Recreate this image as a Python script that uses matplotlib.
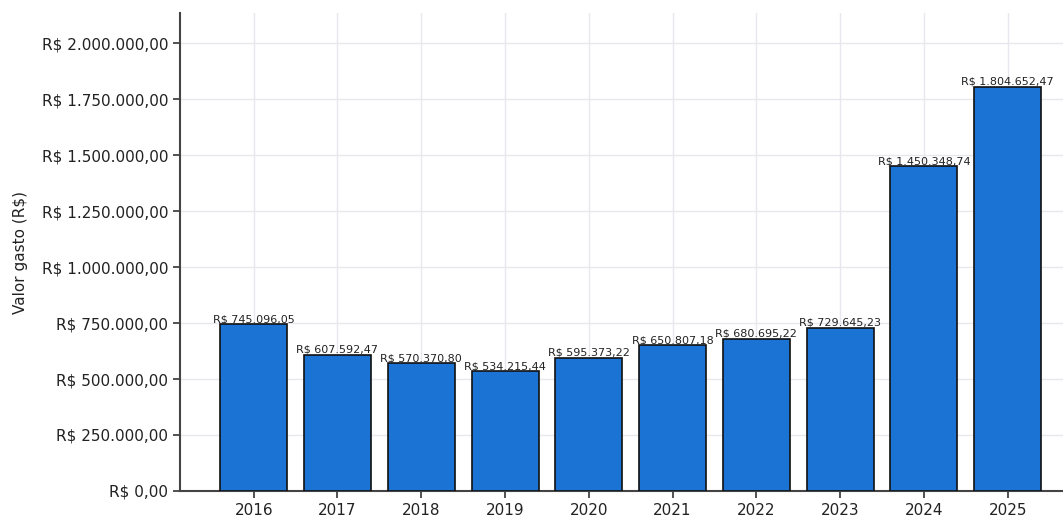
import matplotlib.pyplot as plt
from matplotlib.ticker import FuncFormatter

anos = ["2016", "2017", "2018", "2019", "2020", "2021", "2022", "2023", "2024", "2025"]
valores = [745096.05, 607592.47, 570370.80, 534215.44, 595373.22,
           650807.18, 680695.22, 729645.23, 1450348.74, 1804652.47]
yticks = [0, 250000, 500000, 750000, 1000000, 1250000, 1500000, 1750000, 2000000]


def brl(v):
    s = f"{v:,.2f}"
    s = s.replace(",", "X").replace(".", ",").replace("X", ".")
    return f"R$ {s}"


fig = plt.figure(figsize=(10.63, 5.21), dpi=100)
ax = fig.add_axes([0.1693, 0.0576, 0.8307, 0.9174])

x = range(len(anos))
bars = ax.bar(x, valores, width=0.8, color="#1b74d3",
              edgecolor="#111111", linewidth=1.2, zorder=3)

# valor em cima de cada barra
for bar, v in zip(bars, valores):
    ax.text(bar.get_x() + bar.get_width() / 2, bar.get_height(),
            brl(v), ha="center", va="bottom", fontsize=8,
            color="#222222", zorder=4)

ax.set_xticks(list(x))
ax.set_xticklabels(anos, fontsize=11, color="#222222")
ax.set_yticks(yticks)
ax.yaxis.set_major_formatter(FuncFormatter(lambda v, p: brl(v)))
ax.tick_params(axis="y", labelsize=11, colors="#222222")
ax.tick_params(axis="both", color="#333333", width=1.2, length=5)

ax.set_xlim(-0.88, 9.66)
ax.set_ylim(0, 2134000)
ax.set_ylabel("Valor gasto (R$)", fontsize=11, color="#222222", labelpad=10)

ax.grid(True, color="#e6e8ee", linewidth=1.0, zorder=0)
ax.spines["top"].set_visible(False)
ax.spines["right"].set_visible(False)
for s in ["left", "bottom"]:
    ax.spines[s].set_color("#444444")
    ax.spines[s].set_linewidth(1.5)

fig.savefig("out.png", dpi=100)
